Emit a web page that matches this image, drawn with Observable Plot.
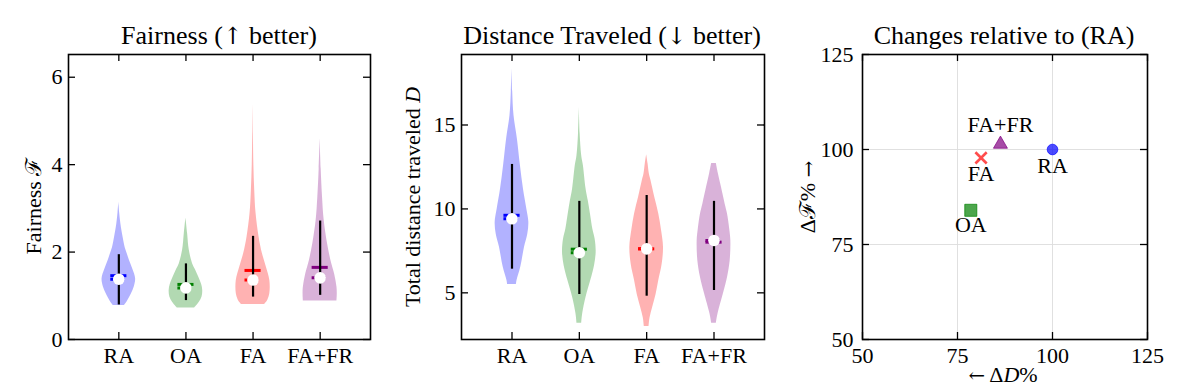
<!DOCTYPE html>
<html>
<head>
<meta charset="utf-8">
<script src="https://cdn.jsdelivr.net/npm/d3@7"></script>
<script src="https://cdn.jsdelivr.net/npm/@observablehq/plot@0.6"></script>
<style>
  body { margin: 0; background: white; }
  #wrap { position: relative; width: 1196px; height: 388px; font-family: "Liberation Serif", "DejaVu Serif", serif; color: black; }
  .panel { position: absolute; top: 0; }
  .title { position: absolute; transform: translate(-50%, -50%); font-size: 26px; white-space: nowrap; }
  .ylab { position: absolute; transform: translate(-50%, -50%) rotate(-90deg); font-size: 22px; white-space: nowrap; }
  .xlab { position: absolute; transform: translate(-50%, -50%); font-size: 22px; white-space: nowrap; }
  .arr { font-family: "DejaVu Serif", serif; font-variant-emoji: text; font-size: 0.9em; }
</style>
</head>
<body>
<div id="wrap"></div>
<script>
// ---------- data ----------
const categories = ["RA", "OA", "FA", "FA+FR"];
const colors = ["blue", "green", "red", "purple"];

// Fairness violin outlines: [value, half-width]
const fairnessRA = [[0.78,0.085],[0.85,0.12],[1.05,0.19],[1.2,0.23],[1.39,0.25],[1.6,0.21],[1.8,0.16],[1.94,0.13],[2.1,0.095],[2.31,0.067],[2.65,0.03],[2.9,0.012],[3.14,0]];
const fairnessOA = [[0.72,0.13],[0.85,0.2],[0.97,0.24],[1.12,0.25],[1.25,0.235],[1.43,0.19],[1.6,0.14],[1.73,0.1],[2.04,0.05],[2.42,0.025],[2.78,0]];
const fairnessFA = [[0.8,0.17],[0.9,0.22],[1.05,0.25],[1.35,0.25],[1.65,0.2],[1.96,0.14],[2.34,0.09],[2.88,0.045],[3.41,0.025],[4.0,0.012],[4.7,0.005],[5.39,0]];
const fairnessFAFR = [[0.88,0.25],[1.05,0.255],[1.2,0.25],[1.5,0.215],[1.81,0.16],[2.19,0.11],[2.72,0.06],[3.26,0.035],[3.9,0.015],[4.6,0]];
const fairLow = [0.79, 0.89, 0.97, 1.01];
const fairHigh = [1.94, 1.73, 2.36, 2.71];
const fairMedian = [1.38, 1.18, 1.36, 1.41];
const fairMean = [1.46, 1.26, 1.58, 1.65];
const fairTicks = [0, 2, 4, 6];

// Distance violin outlines: [value, half-width]
const distRA = [[5.49,0.065],[5.73,0.075],[6.52,0.13],[7.71,0.186],[8.5,0.235],[9.2,0.25],[10.0,0.22],[11.19,0.17],[12.58,0.125],[14.17,0.08],[15.55,0.03],[17.0,0.01],[18.37,0]];
const distOA = [[3.19,0.035],[3.75,0.05],[4.74,0.1],[5.73,0.17],[6.6,0.225],[7.42,0.25],[8.2,0.235],[8.81,0.2],[9.7,0.165],[10.45,0.134],[11.19,0.1],[12.58,0.06],[13.17,0.035],[14.5,0.012],[16.05,0]];
const distFA = [[2.99,0.035],[3.5,0.05],[4.14,0.09],[4.9,0.14],[5.73,0.18],[6.7,0.23],[7.71,0.25],[8.75,0.22],[9.7,0.18],[10.69,0.12],[11.68,0.065],[12.08,0.04],[12.7,0.02],[13.23,0]];
const distFAFR = [[3.19,0.035],[3.75,0.06],[4.94,0.14],[5.9,0.2],[6.9,0.24],[8.12,0.25],[8.75,0.235],[9.71,0.2],[10.3,0.165],[11.3,0.11],[12.1,0.065],[12.71,0.035]];
const distLow = [6.41, 4.9, 4.8, 5.14];
const distHigh = [12.65, 10.45, 10.8, 10.45];
const distMedian = [9.41, 7.39, 7.62, 8.12];
const distMean = [9.62, 7.6, 7.62, 8.02];
const distTicks = [5, 10, 15];

// Scatter: changes relative to RA (%)
const deltaD = [100, 78.5, 81.2, 86.3];
const deltaF = [100, 84.0, 97.8, 101.4];
const scatterTicks = [50, 75, 100, 125];

// ---------- drawing ----------
const wrap = document.getElementById("wrap");
const baseStyle = {fontFamily: "'Liberation Serif', 'DejaVu Serif', serif", fontSize: "22px", color: "black", background: "transparent", overflow: "visible"};
const H = 388, MT = 54, MB = 49;

function addPanel(left, node) {
  const d = document.createElement("div");
  d.className = "panel";
  d.style.left = left + "px";
  d.appendChild(node);
  wrap.appendChild(d);
}
function addText(cls, x, y, html) {
  const d = document.createElement("div");
  d.className = cls;
  d.style.left = x + "px";
  d.style.top = y + "px";
  d.innerHTML = html;
  wrap.appendChild(d);
}

function framedTicks(width, ml, mr, xTicks, yTicks) {
  const fw = width - ml - mr, fh = H - MT - MB, L = 7;
  return [
    Plot.tickY(yTicks, {y: d => d, insetRight: fw - L, stroke: "black", strokeWidth: 1.3}),
    Plot.tickY(yTicks, {y: d => d, insetLeft: fw - L, stroke: "black", strokeWidth: 1.3}),
    Plot.tickX(xTicks, {x: d => d, insetTop: fh - L, stroke: "black", strokeWidth: 1.3}),
    Plot.tickX(xTicks, {x: d => d, insetBottom: fh - L, stroke: "black", strokeWidth: 1.3}),
    Plot.frame({stroke: "black", strokeWidth: 1.6})
  ];
}

function violinPanel(opts) {
  const {width, ml, mr, yDomain, profiles, low, high, median, mean, yTicks} = opts;
  const pos = [1, 2, 3, 4];
  const marks = [];
  profiles.forEach((prof, i) => {
    const rows = prof.map(([v, w]) => ({v, w}));
    marks.push(Plot.areaX(rows, {y: "v", x1: d => pos[i] - d.w, x2: d => pos[i] + d.w, fill: colors[i], fillOpacity: 0.3, curve: "catmull-rom"}));
  });
  const idx = d3.range(4);
  marks.push(Plot.ruleY(idx, {y: i => mean[i], x1: i => pos[i] - 0.12, x2: i => pos[i] + 0.12, stroke: i => colors[i], strokeWidth: 3}));
  marks.push(Plot.ruleY(idx, {y: i => median[i], x1: i => pos[i] - 0.12, x2: i => pos[i] + 0.12, stroke: i => colors[i], strokeWidth: 3, strokeDasharray: "3,2.5"}));
  marks.push(Plot.ruleX(idx, {x: i => pos[i], y1: i => low[i], y2: i => high[i], stroke: "black", strokeWidth: 2.2}));
  marks.push(Plot.dot(idx, {x: i => pos[i], y: i => median[i], r: 5.8, fill: "white", stroke: "none"}));
  marks.push(...framedTicks(width, ml, mr, pos, yTicks));
  marks.push(Plot.axisY(yTicks, {tickSize: 0, tickPadding: 6, label: null}));
  marks.push(Plot.axisX(pos, {tickSize: 0, tickPadding: 8, label: null, tickFormat: i => categories[i - 1]}));
  return Plot.plot({
    width, height: H, marginLeft: ml, marginRight: mr, marginTop: MT, marginBottom: MB,
    style: baseStyle,
    x: {type: "linear", domain: [0.25, 4.75]},
    y: {type: "linear", domain: yDomain},
    color: {type: "identity"},
    marks
  });
}

// Panel 1: Fairness
addPanel(0, violinPanel({
  width: 402, ml: 68, mr: 32, yDomain: [0, 6.52],
  profiles: [fairnessRA, fairnessOA, fairnessFA, fairnessFAFR],
  low: fairLow, high: fairHigh, median: fairMedian, mean: fairMean, yTicks: fairTicks
}));

// Panel 2: Distance
addPanel(400, violinPanel({
  width: 370, ml: 61, mr: 6, yDomain: [2.22, 19.2],
  profiles: [distRA, distOA, distFA, distFAFR],
  low: distLow, high: distHigh, median: distMedian, mean: distMean, yTicks: distTicks
}));

// Panel 3: scatter
(function () {
  const width = 406, ml = 72, mr = 49;
  const pts = d3.range(4).map(i => ({name: categories[i], d: deltaD[i], f: deltaF[i], c: colors[i]}));
  const labelDy = [16, 15, 16, -19];
  const symbols = ["circle", "square", "times", "triangle"];
  const sizes = [5.3, 6.8, 5.2, 5.2];
  const marks = [
    Plot.ruleX([75, 100], {stroke: "#dcdcdc", strokeWidth: 0.9}),
    Plot.ruleY([75, 100], {stroke: "#dcdcdc", strokeWidth: 0.9})
  ];
  pts.forEach((p, i) => {
    if (symbols[i] === "times") {
      marks.push(Plot.dot([p], {x: "d", y: "f", symbol: "times", r: sizes[i], stroke: p.c, strokeOpacity: 0.7, strokeWidth: 2.6}));
    } else {
      marks.push(Plot.dot([p], {x: "d", y: "f", symbol: symbols[i], r: sizes[i], fill: p.c, fillOpacity: 0.7, stroke: p.c, strokeOpacity: 0.7, strokeWidth: 1}));
    }
    marks.push(Plot.text([p], {x: "d", y: "f", text: "name", dy: labelDy[i], fontSize: 22, fill: "black"}));
  });
  marks.push(...framedTicks(width, ml, mr, scatterTicks, scatterTicks));
  marks.push(Plot.axisY(scatterTicks, {tickSize: 0, tickPadding: 9, label: null}));
  marks.push(Plot.axisX(scatterTicks, {tickSize: 0, tickPadding: 8, label: null}));
  addPanel(790, Plot.plot({
    width, height: H, marginLeft: ml, marginRight: mr, marginTop: MT, marginBottom: MB,
    style: baseStyle,
    x: {type: "linear", domain: [50, 125]},
    y: {type: "linear", domain: [50, 125]},
    marks
  }));
})();

// Titles and axis labels
addText("title", 219, 36, "Fairness (<span class=\"arr\">↑</span> better)");
addText("title", 612, 36, "Distance Traveled (<span class=\"arr\">↓</span> better)");
addText("title", 1004, 36, "Changes relative to (RA)");
addText("ylab", 32, 206, "Fairness ℱ");
addText("ylab", 413, 197, "Total distance traveled <i>D</i>");
addText("ylab", 806, 197, "Δℱ% <span class=\"arr\">→</span>");
addText("xlab", 1003, 375, "<span class=\"arr\">←</span> Δ<i>D</i>%");
</script>
</body>
</html>
